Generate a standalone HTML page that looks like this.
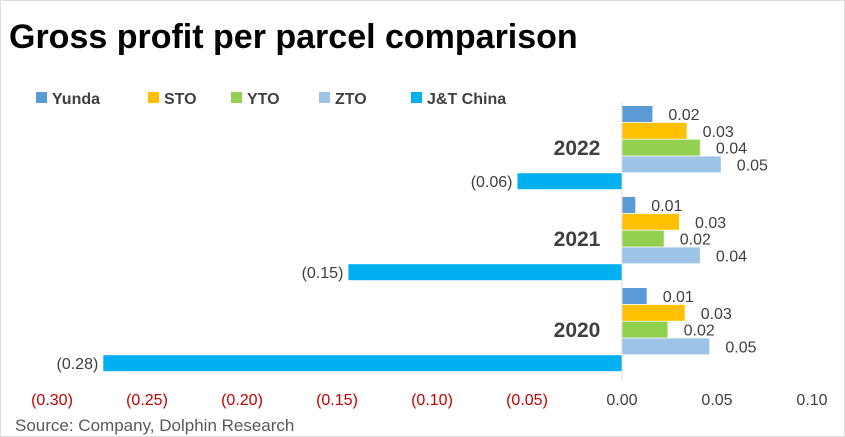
<!DOCTYPE html>
<html><head><meta charset="utf-8"><style>
body{margin:0;background:#fff;font-family:"Liberation Sans",sans-serif;}
#wrap{position:relative;width:845px;height:437px;overflow:hidden;border:1px solid #ddd;box-sizing:border-box;}
</style></head><body>
<div id="wrap">
<svg id="chart" width="845" height="437"></svg>
</div>
<script>
const years=["2022","2021","2020"];
const series=["Yunda","STO","YTO","ZTO","J&T China"];
const colors=["#5b9bd5","#ffc000","#92d050","#9dc3e6","#00b0f0"];
const yunda=[0.016,0.007,0.013];
const sto=[0.034,0.030,0.033];
const yto=[0.041,0.022,0.024];
const zto=[0.052,0.041,0.046];
const jt=[-0.055,-0.144,-0.273];
const printed=[["0.02","0.03","0.04","0.05","(0.06)"],["0.01","0.03","0.02","0.04","(0.15)"],["0.01","0.03","0.02","0.05","(0.28)"]];
const ticks=[-0.30,-0.25,-0.20,-0.15,-0.10,-0.05,0,0.05,0.10];
const tickLabels=["(0.30)","(0.25)","(0.20)","(0.15)","(0.10)","(0.05)","0.00","0.05","0.10"];
const NS="http://www.w3.org/2000/svg";
const svg=document.getElementById('chart');
function x(v){return 621+v*1900;}
function el(t,a,txt){const e=document.createElementNS(NS,t);for(const k in a)e.setAttribute(k,a[k]);if(txt!==undefined)e.textContent=txt;svg.appendChild(e);return e;}
let t=el('text',{x:8,y:47,'font-size':34,'font-weight':'bold',fill:'#000'},'Gross profit per parcel comparison');


const legX=[35,147,230,318,410];
series.forEach((s,i)=>{
 const r=el('rect',{x:legX[i],y:91,width:11,height:11,fill:colors[i]});
 
 
 const tx=el('text',{x:legX[i]+16,y:103,'font-size':16,'font-weight':'bold',fill:'#404040'},s);
 
 
});
const vals=[yunda,sto,yto,zto,jt];
years.forEach((yr,g)=>{
 const top=105+g*91;
 const yl=el('text',{x:576,y:top+49,'font-size':21,'font-weight':'bold',fill:'#404040','text-anchor':'middle'},yr);
 
 
 for(let s=0;s<5;s++){
  const v=vals[s][g];const y0=top+s*16.8;
  const b=el('rect',{x:Math.min(x(0),x(v)),y:y0,width:Math.abs(x(v)-x(0)),height:16,fill:colors[s]});
  
  
  const lx=v>=0?x(v)+16:x(v)-5;
  const lb=el('text',{x:lx,y:y0+14,'font-size':16,fill:'#404040','text-anchor':v>=0?'start':'end'},printed[g][s]);
  
  
 }
});
const ax=el('line',{x1:x(0),y1:100,x2:x(0),y2:380,stroke:'#d9d9d9','stroke-width':1});


ticks.forEach((v,i)=>{
 const tl=el('text',{x:x(v),y:404,'font-size':16,fill:v<0?'#c00000':'#404040','text-anchor':'middle'},tickLabels[i]);
 
 
});
const src=el('text',{x:14,y:430,'font-size':17,fill:'#595959'},'Source: Company, Dolphin Research');


</script>
</body></html>
